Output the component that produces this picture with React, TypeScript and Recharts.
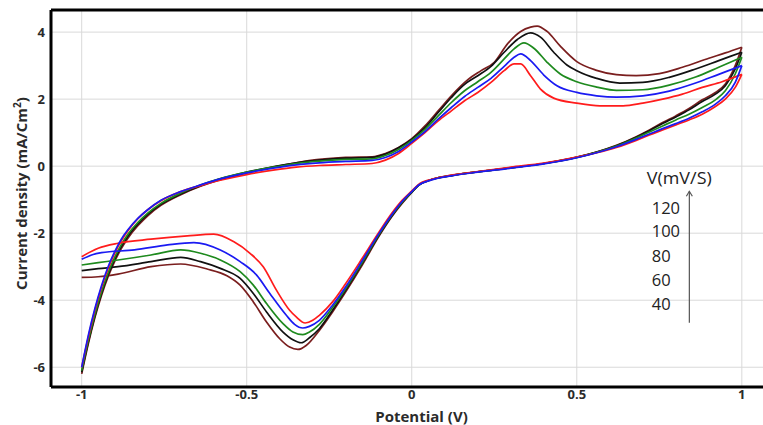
import { LineChart, Line, XAxis, YAxis, CartesianGrid, ReferenceLine, ReferenceDot } from 'recharts';

// MARK: - Data (potential V, current density mA/cm2)

// scan rate labels, highest first
const scanRates = ['120', '100', '80', '60', '40'];

const xTicks = [-1, -0.5, 0, 0.5, 1];
const yTicks = [-6, -4, -2, 0, 2, 4];

// 120 mV/s (maroon)
const maroonForward = [
    [-1, -6.2], [-0.98, -5.3], [-0.96, -4.52], [-0.94, -3.86], [-0.92, -3.3], [-0.9, -2.84], [-0.88, -2.46],
    [-0.86, -2.15], [-0.83, -1.78], [-0.8, -1.48], [-0.76, -1.17], [-0.7, -0.85], [-0.64, -0.6], [-0.58, -0.4],
    [-0.5, -0.2], [-0.42, -0.03], [-0.35, 0.1], [-0.28, 0.2], [-0.2, 0.26], [-0.12, 0.28], [-0.08, 0.38],
    [-0.04, 0.56], [0, 0.82], [0.04, 1.2], [0.08, 1.65], [0.12, 2.1], [0.17, 2.58], [0.21, 2.85], [0.25, 3.1],
    [0.29, 3.65], [0.33, 4.02], [0.36, 4.15], [0.38, 4.18], [0.41, 4.02], [0.45, 3.58], [0.5, 3.12],
    [0.56, 2.86], [0.62, 2.73], [0.68, 2.7], [0.75, 2.76], [0.82, 2.95], [0.9, 3.22], [0.95, 3.38], [1, 3.55],
];
const maroonReverse = [
    [1, 3.55], [0.98, 3.0], [0.95, 2.45], [0.92, 2.2], [0.88, 1.98], [0.84, 1.72], [0.8, 1.5], [0.76, 1.3],
    [0.72, 1.08], [0.68, 0.88], [0.62, 0.62], [0.56, 0.42], [0.5, 0.27], [0.4, 0.08], [0.3, -0.05],
    [0.2, -0.17], [0.12, -0.28], [0.06, -0.4], [0.02, -0.58], [0, -0.78], [-0.03, -1.12], [-0.06, -1.5],
    [-0.1, -2.1], [-0.15, -2.95], [-0.2, -3.75], [-0.24, -4.35], [-0.28, -4.9], [-0.32, -5.35], [-0.345, -5.47],
    [-0.37, -5.4], [-0.4, -5.15], [-0.44, -4.65], [-0.48, -4.05], [-0.52, -3.55], [-0.56, -3.27], [-0.62, -3.07],
    [-0.7, -2.92], [-0.79, -3.0], [-0.89, -3.22], [-0.95, -3.3], [-1, -3.32],
];

// 100 mV/s (black)
const blackForward = [
    [-1, -6.15], [-0.98, -5.25], [-0.96, -4.47], [-0.94, -3.8], [-0.92, -3.24], [-0.9, -2.78], [-0.88, -2.4],
    [-0.86, -2.09], [-0.83, -1.73], [-0.8, -1.44], [-0.76, -1.14], [-0.7, -0.83], [-0.64, -0.58], [-0.58, -0.38],
    [-0.5, -0.18], [-0.42, -0.02], [-0.35, 0.1], [-0.28, 0.18], [-0.2, 0.24], [-0.12, 0.26], [-0.08, 0.36],
    [-0.04, 0.55], [0, 0.8], [0.04, 1.15], [0.08, 1.6], [0.12, 2.05], [0.16, 2.44], [0.2, 2.7], [0.24, 2.98],
    [0.28, 3.4], [0.32, 3.78], [0.36, 3.98], [0.39, 3.85], [0.43, 3.4], [0.47, 3.02], [0.5, 2.85],
    [0.56, 2.62], [0.63, 2.48], [0.7, 2.5], [0.78, 2.65], [0.86, 2.9], [0.93, 3.15], [1, 3.4],
];
const blackReverse = [
    [1, 3.4], [0.98, 2.9], [0.95, 2.4], [0.92, 2.15], [0.88, 1.93], [0.84, 1.68], [0.8, 1.47], [0.76, 1.27],
    [0.72, 1.06], [0.68, 0.86], [0.62, 0.61], [0.56, 0.42], [0.5, 0.26], [0.4, 0.08], [0.3, -0.05],
    [0.2, -0.17], [0.12, -0.28], [0.06, -0.4], [0.02, -0.58], [0, -0.78], [-0.03, -1.1], [-0.06, -1.48],
    [-0.1, -2.07], [-0.15, -2.9], [-0.2, -3.7], [-0.24, -4.3], [-0.28, -4.85], [-0.31, -5.12], [-0.335, -5.27],
    [-0.36, -5.18], [-0.39, -4.95], [-0.44, -4.35], [-0.48, -3.8], [-0.52, -3.35], [-0.58, -3.05], [-0.64, -2.85],
    [-0.7, -2.72], [-0.79, -2.85], [-0.89, -3.0], [-0.95, -3.06], [-1, -3.12],
];

// 80 mV/s (green)
const greenForward = [
    [-1, -6.1], [-0.98, -5.2], [-0.96, -4.42], [-0.94, -3.75], [-0.92, -3.18], [-0.9, -2.72], [-0.88, -2.34],
    [-0.86, -2.03], [-0.83, -1.68], [-0.8, -1.4], [-0.76, -1.11], [-0.7, -0.8], [-0.64, -0.56], [-0.58, -0.37],
    [-0.5, -0.18], [-0.42, -0.03], [-0.35, 0.08], [-0.28, 0.15], [-0.2, 0.2], [-0.12, 0.22], [-0.08, 0.32],
    [-0.04, 0.5], [0, 0.77], [0.04, 1.1], [0.08, 1.5], [0.12, 1.9], [0.16, 2.25], [0.2, 2.52], [0.24, 2.8],
    [0.28, 3.2], [0.31, 3.5], [0.34, 3.68], [0.37, 3.52], [0.41, 3.1], [0.45, 2.75], [0.5, 2.52],
    [0.56, 2.36], [0.62, 2.26], [0.7, 2.28], [0.78, 2.42], [0.86, 2.66], [0.93, 2.95], [1, 3.25],
];
const greenReverse = [
    [1, 3.25], [0.98, 2.75], [0.95, 2.25], [0.92, 1.98], [0.88, 1.75], [0.84, 1.55], [0.8, 1.38], [0.76, 1.2],
    [0.72, 1.02], [0.68, 0.84], [0.62, 0.6], [0.56, 0.41], [0.5, 0.26], [0.4, 0.08], [0.3, -0.05],
    [0.2, -0.17], [0.12, -0.28], [0.06, -0.4], [0.02, -0.57], [0, -0.77], [-0.03, -1.08], [-0.06, -1.46],
    [-0.1, -2.05], [-0.15, -2.87], [-0.2, -3.65], [-0.24, -4.22], [-0.28, -4.72], [-0.31, -4.95], [-0.33, -5.03],
    [-0.36, -4.95], [-0.39, -4.7], [-0.44, -4.1], [-0.48, -3.55], [-0.52, -3.15], [-0.58, -2.8], [-0.64, -2.6],
    [-0.7, -2.5], [-0.79, -2.65], [-0.89, -2.8], [-0.95, -2.88], [-1, -2.95],
];

// 60 mV/s (blue)
const blueForward = [
    [-1, -6.0], [-0.98, -5.05], [-0.96, -4.25], [-0.94, -3.57], [-0.92, -3.0], [-0.9, -2.55], [-0.88, -2.18],
    [-0.86, -1.9], [-0.83, -1.56], [-0.8, -1.3], [-0.76, -1.02], [-0.7, -0.76], [-0.64, -0.56], [-0.58, -0.38],
    [-0.5, -0.2], [-0.42, -0.06], [-0.35, 0.04], [-0.28, 0.1], [-0.2, 0.14], [-0.12, 0.17], [-0.08, 0.26],
    [-0.04, 0.44], [0, 0.72], [0.04, 1.03], [0.08, 1.4], [0.12, 1.75], [0.16, 2.08], [0.2, 2.35], [0.24, 2.62],
    [0.28, 2.98], [0.31, 3.25], [0.33, 3.35], [0.36, 3.15], [0.4, 2.72], [0.44, 2.4], [0.5, 2.2],
    [0.56, 2.1], [0.62, 2.06], [0.7, 2.1], [0.78, 2.24], [0.86, 2.48], [0.93, 2.74], [1, 3.0],
];
const blueReverse = [
    [1, 3.0], [0.98, 2.5], [0.95, 2.1], [0.92, 1.85], [0.88, 1.62], [0.84, 1.43], [0.8, 1.27], [0.76, 1.12],
    [0.72, 0.96], [0.68, 0.8], [0.62, 0.58], [0.56, 0.4], [0.5, 0.25], [0.4, 0.07], [0.3, -0.06],
    [0.2, -0.18], [0.12, -0.29], [0.06, -0.41], [0.02, -0.57], [0, -0.76], [-0.03, -1.06], [-0.06, -1.44],
    [-0.1, -2.02], [-0.15, -2.82], [-0.2, -3.6], [-0.24, -4.15], [-0.28, -4.6], [-0.31, -4.78], [-0.33, -4.83],
    [-0.355, -4.72], [-0.38, -4.45], [-0.43, -3.8], [-0.47, -3.25], [-0.52, -2.85], [-0.58, -2.5], [-0.66, -2.28],
    [-0.74, -2.35], [-0.84, -2.5], [-0.94, -2.58], [-0.97, -2.65], [-1, -2.78],
];

// 40 mV/s (red)
const redForward = [
    [-1, -6.0], [-0.98, -5.1], [-0.96, -4.3], [-0.94, -3.62], [-0.92, -3.06], [-0.9, -2.6], [-0.88, -2.23],
    [-0.86, -1.93], [-0.83, -1.57], [-0.8, -1.3], [-0.76, -1.03], [-0.7, -0.76], [-0.64, -0.58], [-0.58, -0.42],
    [-0.5, -0.25], [-0.42, -0.12], [-0.35, -0.03], [-0.28, 0.02], [-0.2, 0.05], [-0.12, 0.08], [-0.08, 0.18],
    [-0.04, 0.38], [0, 0.68], [0.04, 1.0], [0.08, 1.35], [0.12, 1.65], [0.16, 1.95], [0.2, 2.2], [0.24, 2.5],
    [0.28, 2.85], [0.31, 3.05], [0.33, 3.05], [0.36, 2.7], [0.39, 2.3], [0.43, 2.03], [0.5, 1.88],
    [0.57, 1.8], [0.64, 1.8], [0.7, 1.88], [0.76, 2.0], [0.82, 2.15], [0.88, 2.35], [0.94, 2.52], [1, 2.74],
];
const redReverse = [
    [1, 2.74], [0.98, 2.35], [0.95, 2.0], [0.92, 1.78], [0.88, 1.55], [0.84, 1.38], [0.8, 1.23], [0.76, 1.08],
    [0.72, 0.93], [0.68, 0.77], [0.62, 0.56], [0.56, 0.4], [0.5, 0.27], [0.4, 0.09], [0.3, -0.03],
    [0.2, -0.16], [0.12, -0.27], [0.06, -0.39], [0.02, -0.55], [0, -0.74], [-0.03, -1.03], [-0.06, -1.4],
    [-0.1, -1.98], [-0.15, -2.75], [-0.2, -3.5], [-0.24, -4.05], [-0.28, -4.45], [-0.3, -4.6], [-0.323, -4.68],
    [-0.35, -4.5], [-0.37, -4.3], [-0.41, -3.7], [-0.45, -3.0], [-0.49, -2.6], [-0.54, -2.25], [-0.6, -2.03],
    [-0.68, -2.08], [-0.79, -2.18], [-0.89, -2.3], [-0.95, -2.45], [-1, -2.7],
];

// MARK: - Chart

const toPoints = (pairs: number[][]) => pairs.map(([x, y]) => ({ x, y }));

// drawn back to front
const series = [
    { rate: '120', color: '#7a1e1e', forward: maroonForward, reverse: maroonReverse },
    { rate: '100', color: '#111111', forward: blackForward, reverse: blackReverse },
    { rate: '80', color: '#1e8a1e', forward: greenForward, reverse: greenReverse },
    { rate: '40', color: '#ff1c1c', forward: redForward, reverse: redReverse },
    { rate: '60', color: '#1a1af2', forward: blueForward, reverse: blueReverse },
];

const FONT = '"Open Sans", sans-serif';
const X_DOMAIN = [-1.093, 1.152];
const Y_DOMAIN = [-6.59, 4.66];

// annotation placement (data units)
const NOTE_X = 0.727;
const NOTE_Y = [-1.22, -1.92, -2.66, -3.38, -4.1];
const ARROW_X = 0.841;

const tickStyle = { fontFamily: FONT, fontWeight: 700, fontSize: 13, fill: '#2b2b2b' };

const renderXLabel = ({ viewBox }: any) => (
    <text
        x={viewBox.x + viewBox.width / 2}
        y={viewBox.y + 35}
        textAnchor="middle"
        fontFamily={FONT}
        fontWeight={700}
        fontSize={15}
        fill="#2b2b2b"
    >
        Potential (V)
    </text>
);

const renderYLabel = ({ viewBox }: any) => {
    const cx = viewBox.x + 26.5;
    const cy = viewBox.y + viewBox.height / 2 - 5;
    return (
        <text
            x={cx}
            y={cy}
            transform={`rotate(-90 ${cx} ${cy})`}
            textAnchor="middle"
            fontFamily={FONT}
            fontWeight={700}
            fontSize={15}
            fill="#2b2b2b"
        >
            Current density (mA/Cm<tspan dy={-6} fontSize={10}>2</tspan><tspan dy={6}>)</tspan>
        </text>
    );
};

const App = () => {
    return (
        <div style={{ position: 'fixed', left: 0, top: 0, width: 763, height: 425, overflow: 'hidden', background: '#fff' }}>
            <LineChart width={792} height={425} margin={{ top: 10, right: 0, bottom: 0, left: 0 }}>
                <CartesianGrid stroke="#d9d9d9" strokeWidth={1} />

                <XAxis
                    dataKey="x"
                    type="number"
                    domain={X_DOMAIN}
                    ticks={xTicks}
                    allowDataOverflow
                    height={38}
                    tickLine={false}
                    tickSize={0}
                    tickMargin={3}
                    axisLine={{ stroke: '#000', strokeWidth: 3 }}
                    tick={tickStyle}
                    label={renderXLabel}
                />
                <YAxis
                    type="number"
                    domain={Y_DOMAIN}
                    ticks={yTicks}
                    allowDataOverflow
                    width={51}
                    tickLine={false}
                    tickSize={0}
                    tickMargin={6}
                    axisLine={{ stroke: '#000', strokeWidth: 3 }}
                    tick={tickStyle}
                    label={renderYLabel}
                />

                {/* top frame line */}
                <ReferenceLine y={Y_DOMAIN[1]} stroke="#000" strokeWidth={3} />

                {series.map((s) => [
                    <Line
                        key={`${s.rate}-f`}
                        data={toPoints(s.forward)}
                        dataKey="y"
                        type="monotoneX"
                        stroke={s.color}
                        strokeWidth={1.7}
                        dot={false}
                        activeDot={false}
                        isAnimationActive={false}
                    />,
                    <Line
                        key={`${s.rate}-r`}
                        data={toPoints(s.reverse)}
                        dataKey="y"
                        type="monotoneX"
                        stroke={s.color}
                        strokeWidth={1.7}
                        dot={false}
                        activeDot={false}
                        isAnimationActive={false}
                    />,
                ])}

                {/* scan rate note */}
                <ReferenceDot
                    x={NOTE_X - 0.015}
                    y={-0.35}
                    r={1}
                    shape={(p: any) => (
                        <text x={p.cx} y={p.cy} dominantBaseline="central" fontFamily={FONT} fontSize={16} fill="#222"
                            textLength={65} lengthAdjust="spacingAndGlyphs">
                            V(mV/S)
                        </text>
                    )}
                />
                {scanRates.map((rate, i) => (
                    <ReferenceDot
                        key={rate}
                        x={NOTE_X}
                        y={NOTE_Y[i]}
                        r={1}
                        shape={(p: any) => (
                            <text x={p.cx} y={p.cy} dominantBaseline="central" fontFamily={FONT} fontSize={16.5} fill="#222">
                                {rate}
                            </text>
                        )}
                    />
                ))}
                <ReferenceLine
                    segment={[{ x: ARROW_X, y: -4.67 }, { x: ARROW_X, y: -0.75 }]}
                    stroke="#555"
                    strokeWidth={1.2}
                />
                <ReferenceDot
                    x={ARROW_X}
                    y={-0.75}
                    r={1}
                    shape={(p: any) => (
                        <path
                            d={`M ${p.cx - 3} ${p.cy + 5} L ${p.cx} ${p.cy} L ${p.cx + 3} ${p.cy + 5}`}
                            stroke="#555"
                            strokeWidth={1.2}
                            fill="none"
                        />
                    )}
                />
            </LineChart>
        </div>
    );
};

export default App;
